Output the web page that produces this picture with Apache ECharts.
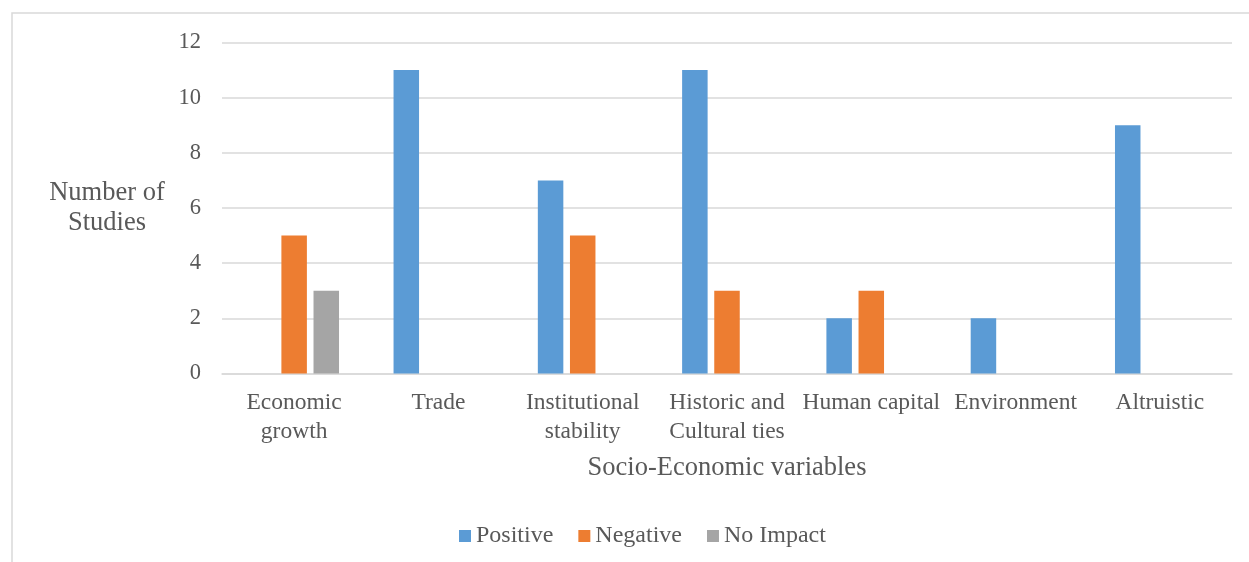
<!DOCTYPE html>
<html>
<head>
<meta charset="utf-8">
<script src="https://cdn.jsdelivr.net/npm/echarts@6/dist/echarts.min.js"></script>
<style>
  html, body { margin: 0; padding: 0; background: #fff; }
  #chart { width: 1249px; height: 562px; }
</style>
</head>
<body>
<div id="chart"></div>
<script>
// Socio-economic variables and how many studies found each effect
const categories = [
  'Economic\ngrowth',
  'Trade',
  'Institutional\nstability',
  'Historic and\nCultural ties',
  'Human capital',
  'Environment',
  'Altruistic'
];
const positive = [0, 11, 7, 11, 2, 2, 9];
const negative = [5, 0, 5, 3, 3, 0, 0];
const noImpact = [3, 0, 0, 0, 0, 0, 0];
const yTicks = { min: 0, max: 12, interval: 2 };

const FONT = '"Liberation Serif", "Times New Roman", serif';
const TEXT = '#595959';
const GRID = '#d9d9d9';

const chart = echarts.init(document.getElementById('chart'));

function barSeries(name, data, color) {
  return {
    name: name,
    type: 'bar',
    data: data,
    barWidth: 25.5,
    barGap: '26%',
    itemStyle: { color: color }
  };
}

chart.setOption({
  animation: false,
  backgroundColor: '#fff',
  textStyle: { fontFamily: FONT },
  graphic: [{
    type: 'rect',
    shape: { x: 12, y: 13, width: 1300, height: 600 },
    style: { fill: 'none', stroke: GRID, lineWidth: 1.5 },
    silent: true
  }],
  grid: { left: 222, right: 17, top: 42.5, bottom: 188.5 },
  legend: {
    left: 454,
    top: 519,
    itemWidth: 12,
    itemHeight: 12,
    itemGap: 25,
    icon: 'rect',
    textStyle: { fontFamily: FONT, fontSize: 24, color: TEXT },
    data: ['Positive', 'Negative', 'No Impact']
  },
  xAxis: {
    type: 'category',
    data: categories,
    name: 'Socio-Economic variables',
    nameLocation: 'middle',
    nameGap: 81,
    nameTextStyle: { fontFamily: FONT, fontSize: 26.5, color: TEXT },
    axisLine: { lineStyle: { color: GRID, width: 1.5 } },
    axisTick: { show: false },
    axisLabel: {
      interval: 0,
      margin: 15,
      fontFamily: FONT,
      fontSize: 23.5,
      color: TEXT,
      lineHeight: 29
    }
  },
  yAxis: {
    type: 'value',
    min: yTicks.min,
    max: yTicks.max,
    interval: yTicks.interval,
    name: 'Number of\nStudies',
    nameLocation: 'middle',
    nameRotate: 0,
    nameGap: 115,
    nameTextStyle: { fontFamily: FONT, fontSize: 26.5, color: TEXT, lineHeight: 30, align: 'center' },
    axisLine: { show: false },
    axisTick: { show: false },
    axisLabel: { margin: 21, fontFamily: FONT, fontSize: 22.5, color: TEXT },
    splitLine: { lineStyle: { color: GRID, width: 1.5 } }
  },
  series: [
    barSeries('Positive', positive, '#5B9BD5'),
    barSeries('Negative', negative, '#ED7D31'),
    barSeries('No Impact', noImpact, '#A5A5A5')
  ]
});
</script>
</body>
</html>
